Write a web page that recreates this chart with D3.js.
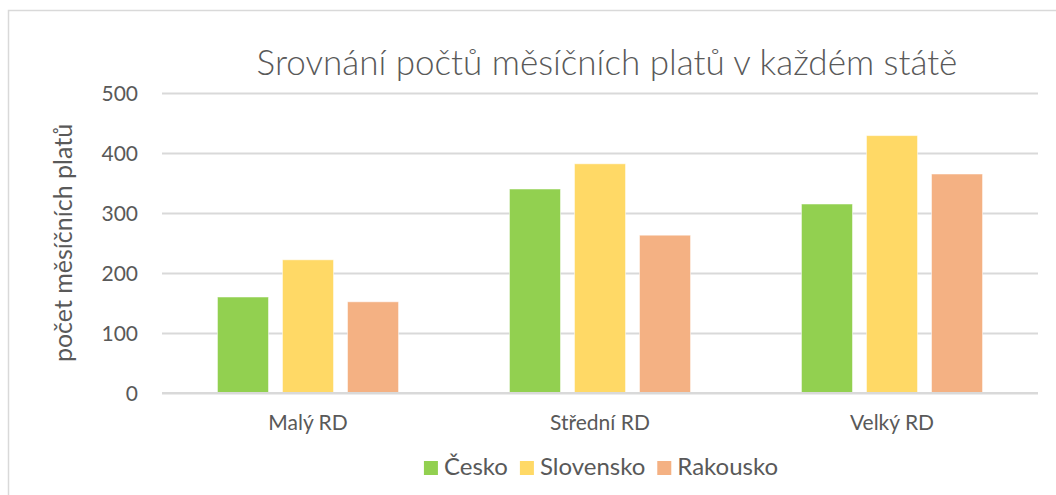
<!DOCTYPE html>
<html><head><meta charset="utf-8">
<script src="https://cdn.jsdelivr.net/npm/d3@7"></script>
<style>body{margin:0;background:#fff}svg{display:block}text{font-family:Lato,"Noto Sans",sans-serif;fill:#595959}</style>
</head><body>
<svg id="c" width="1056" height="495"></svg>
<script>
const categories = ["Malý RD", "Střední RD", "Velký RD"];
const seriesNames = ["Česko", "Slovensko", "Rakousko"];
const cesko = [160, 340, 315];
const slovensko = [222, 382, 429];
const rakousko = [152, 263, 365];
const yTicks = [0, 100, 200, 300, 400, 500];
const colors = ["#92D050", "#FFD966", "#F4B183"];
const title = "Srovnání počtů měsíčních platů v každém státě";
const yTitle = "počet měsíčních platů";

const values = [cesko, slovensko, rakousko];
const svg = d3.select("#c");
const W = 1056, H = 495;
const m = {l: 162, r: 1038, t: 93, b: 393};

// frame
svg.append("rect").attr("x", 8.5).attr("y", 10.5).attr("width", W).attr("height", H)
  .attr("fill", "none").attr("stroke", "#D9D9D9").attr("stroke-width", 1.5);

const x0 = d3.scaleBand().domain(categories).range([m.l, m.r]).padding(0);
const x1 = d3.scaleBand().domain(seriesNames).range([0, x0.bandwidth()])
  .paddingInner(0.215).paddingOuter(0.853);
const y = d3.scaleLinear().domain([0, 500]).range([m.b, m.t]);

// gridlines
const yAxis = d3.axisLeft(y).tickValues(yTicks).tickSize(-(m.r - m.l)).tickPadding(24);
const ga = svg.append("g").attr("transform", `translate(${m.l},0)`).call(yAxis);
ga.select(".domain").remove();
ga.selectAll(".tick line").attr("stroke", "#D9D9D9").attr("stroke-width", 2);
ga.selectAll(".tick text").style("font-size", "21px").attr("fill", "#595959").attr("dy", "0.35em");

// bars
const groups = svg.append("g").selectAll("g").data(categories).join("g")
  .attr("transform", d => `translate(${x0(d)},0)`);
groups.selectAll("rect").data((c, ci) => seriesNames.map((s, si) => ({s, si, v: values[si][ci]})))
  .join("rect")
  .attr("x", d => x1(d.s)).attr("width", x1.bandwidth())
  .attr("y", d => y(d.v)).attr("height", d => y(0) - y(d.v))
  .attr("fill", d => colors[d.si])
  .attr("stroke", "#fff").attr("stroke-opacity", 0.5).attr("stroke-width", 1);

// baseline
svg.append("line").attr("x1", m.l).attr("x2", m.r).attr("y1", y(0)).attr("y2", y(0))
  .attr("stroke", "#D9D9D9").attr("stroke-width", 2);

// x axis labels
const xa = d3.axisBottom(x0).tickSize(0).tickPadding(22);
const gx = svg.append("g").attr("transform", `translate(0,${m.b})`).call(xa);
gx.select(".domain").remove();
gx.selectAll(".tick text").style("font-size", "21px").attr("fill", "#595959");

// title
svg.append("text").attr("x", 607).attr("y", 75).attr("text-anchor", "middle")
  .style("font-size", "35px").style("font-weight", 300).text(title);

// y title
svg.append("text").attr("transform", `translate(72,${(m.t + m.b) / 2}) rotate(-90)`)
  .attr("text-anchor", "middle").style("font-size", "25px").text(yTitle);

// legend
const lg = svg.append("g");
let lx = 0;
seriesNames.forEach((s, i) => {
  const g = lg.append("g").attr("transform", `translate(${lx},0)`);
  g.append("rect").attr("x", 0).attr("y", -14).attr("width", 14).attr("height", 14).attr("fill", colors[i]);
  const t = g.append("text").attr("x", 20).attr("y", 0).style("font-size", "24px").text(s);
  lx += 20 + t.node().getComputedTextLength() + 12;
});
const lw = lx - 12;
lg.attr("transform", `translate(${601 - lw / 2},475)`);
</script>
</body></html>
